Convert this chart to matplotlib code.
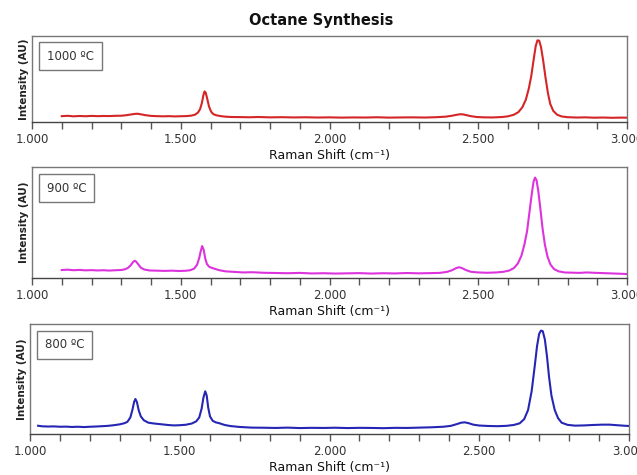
import matplotlib
matplotlib.use("Agg")
import matplotlib.pyplot as plt
from matplotlib.ticker import MultipleLocator, FuncFormatter

# ---------------- data ----------------
labels = ["1000 \u00baC", "900 \u00baC", "800 \u00baC"]
colors = ["#d42626", "#dd33dd", "#2626b4"]

x_1000 = [1100, 1120, 1140, 1160, 1180, 1200, 1220, 1240, 1260, 1280, 1300, 1315, 1330, 1345, 1355, 1365,
          1380, 1400, 1420, 1440, 1460, 1480, 1500, 1520, 1535, 1548, 1558, 1565, 1571, 1576, 1580, 1584,
          1589, 1595, 1602, 1610, 1620, 1635, 1650, 1670, 1700, 1730, 1760, 1800, 1840, 1880, 1920, 1960,
          2000, 2040, 2080, 2120, 2160, 2200, 2240, 2280, 2320, 2360, 2390, 2410, 2425, 2438, 2448, 2460,
          2475, 2495, 2520, 2550, 2580, 2600, 2620, 2635, 2648, 2660, 2670, 2678, 2686, 2693, 2699, 2705,
          2711, 2718, 2726, 2734, 2742, 2752, 2765, 2780, 2800, 2830, 2860, 2890, 2920, 2950, 2980, 3000]
y_1000 = [0.068, 0.072, 0.066, 0.070, 0.067, 0.071, 0.068, 0.070, 0.069, 0.072, 0.073, 0.078, 0.086, 0.094, 0.096, 0.090,
          0.080, 0.071, 0.068, 0.066, 0.068, 0.065, 0.067, 0.069, 0.074, 0.085, 0.110, 0.150, 0.220, 0.310, 0.355, 0.340,
          0.270, 0.180, 0.120, 0.090, 0.078, 0.068, 0.062, 0.058, 0.057, 0.055, 0.058, 0.054, 0.056, 0.053, 0.055, 0.052,
          0.054, 0.051, 0.053, 0.052, 0.055, 0.051, 0.053, 0.054, 0.052, 0.056, 0.062, 0.072, 0.082, 0.090, 0.089, 0.080,
          0.068, 0.058, 0.054, 0.053, 0.058, 0.066, 0.085, 0.115, 0.170, 0.260, 0.390, 0.530, 0.720, 0.880, 0.950, 0.945,
          0.870, 0.720, 0.520, 0.340, 0.210, 0.130, 0.085, 0.065, 0.056, 0.052, 0.054, 0.050, 0.052, 0.049, 0.051, 0.050]

x_900 = [1100, 1120, 1140, 1160, 1180, 1200, 1220, 1240, 1260, 1280, 1300, 1312, 1322, 1332, 1340, 1345,
         1350, 1358, 1366, 1378, 1395, 1420, 1445, 1470, 1495, 1515, 1532, 1545, 1555, 1562, 1567, 1572,
         1577, 1582, 1588, 1596, 1606, 1615, 1630, 1650, 1680, 1710, 1740, 1780, 1820, 1860, 1900, 1940,
         1980, 2020, 2060, 2100, 2140, 2180, 2220, 2260, 2300, 2340, 2370, 2395, 2412, 2425, 2435, 2445,
         2458, 2475, 2500, 2530, 2560, 2585, 2605, 2620, 2633, 2645, 2655, 2664, 2672, 2680, 2686, 2691,
         2696, 2702, 2709, 2716, 2724, 2733, 2743, 2755, 2770, 2790, 2815, 2840, 2865, 2890, 2920, 2950,
         2980, 3000]
y_900 = [0.072, 0.075, 0.070, 0.073, 0.069, 0.071, 0.068, 0.070, 0.067, 0.070, 0.072, 0.078, 0.090, 0.115, 0.145, 0.155,
         0.148, 0.120, 0.092, 0.076, 0.068, 0.066, 0.064, 0.066, 0.063, 0.065, 0.070, 0.085, 0.120, 0.180, 0.240, 0.288,
         0.255, 0.180, 0.125, 0.100, 0.090, 0.082, 0.070, 0.060, 0.055, 0.050, 0.052, 0.047, 0.045, 0.043, 0.046, 0.041,
         0.043, 0.040, 0.042, 0.044, 0.040, 0.043, 0.041, 0.045, 0.042, 0.044, 0.046, 0.055, 0.070, 0.088, 0.097, 0.090,
         0.072, 0.056, 0.050, 0.047, 0.050, 0.056, 0.068, 0.090, 0.130, 0.200, 0.300, 0.420, 0.590, 0.760, 0.870, 0.905,
         0.880, 0.780, 0.620, 0.450, 0.300, 0.190, 0.120, 0.080, 0.060, 0.050, 0.048, 0.046, 0.050, 0.047, 0.044, 0.041,
         0.038, 0.036]

x_800 = [1027, 1040, 1060, 1080, 1100, 1120, 1140, 1160, 1180, 1200, 1220, 1240, 1260, 1280, 1300, 1315,
         1325, 1335, 1342, 1348, 1352, 1357, 1363, 1370, 1380, 1395, 1415, 1440, 1460, 1480, 1500, 1520,
         1540, 1555, 1565, 1573, 1579, 1585, 1590, 1595, 1601, 1610, 1620, 1632, 1650, 1670, 1700, 1740,
         1780, 1820, 1860, 1900, 1940, 1980, 2020, 2060, 2100, 2140, 2180, 2220, 2260, 2300, 2340, 2380,
         2405, 2425, 2440, 2452, 2465, 2480, 2500, 2530, 2560, 2590, 2615, 2635, 2650, 2663, 2675, 2685,
         2693, 2700, 2706, 2712, 2719, 2726, 2733, 2741, 2752, 2763, 2775, 2795, 2820, 2850, 2880, 2910,
         2935, 2960, 2985, 3000]
y_800 = [0.075, 0.070, 0.068, 0.069, 0.066, 0.067, 0.064, 0.066, 0.063, 0.066, 0.068, 0.071, 0.074, 0.080, 0.088, 0.098,
         0.110, 0.150, 0.220, 0.295, 0.318, 0.290, 0.215, 0.160, 0.125, 0.103, 0.095, 0.088, 0.082, 0.078, 0.080, 0.084,
         0.095, 0.115, 0.150, 0.230, 0.330, 0.388, 0.350, 0.240, 0.160, 0.120, 0.106, 0.098, 0.082, 0.072, 0.064, 0.058,
         0.057, 0.055, 0.058, 0.054, 0.056, 0.055, 0.057, 0.054, 0.056, 0.055, 0.053, 0.056, 0.055, 0.058, 0.061, 0.066,
         0.074, 0.090, 0.103, 0.106, 0.098, 0.085, 0.077, 0.073, 0.071, 0.074, 0.082, 0.097, 0.135, 0.218, 0.390, 0.612,
         0.800, 0.910, 0.940, 0.935, 0.860, 0.710, 0.520, 0.350, 0.218, 0.145, 0.103, 0.083, 0.076, 0.078, 0.082, 0.085,
         0.085, 0.080, 0.075, 0.073]

xs = [x_1000, x_900, x_800]
ys = [y_1000, y_900, y_800]
x_limits = (1000, 3000)
major_step = 500
minor_step = 100
title = "Octane Synthesis"
xlabel = "Raman Shift (cm\u207b\u00b9)"
ylabel = "Intensity (AU)"

# ---------------- layout ----------------
W, H = 637, 475
fig = plt.figure(figsize=(W / 100, H / 100), dpi=100)
plt.rcParams['font.family'] = ['DejaVu Sans']

# pixel boxes (left, top, right, bottom)
boxes = [(32, 36, 627, 122), (32, 167, 627, 278), (30, 324, 629, 434)]
label_y = [0.767, 0.81, 0.81]


def fmt(v, pos):
    return "{:,.0f}".format(v).replace(",", ".")


for i, (l, t, r, b) in enumerate(boxes):
    ax = fig.add_axes([l / W, 1 - b / H, (r - l) / W, (b - t) / H])
    ax.plot(xs[i], ys[i], color=colors[i], lw=1.5)
    ax.set_xlim(*x_limits)
    ax.set_ylim(0, 1)
    ax.set_yticks([])
    ax.xaxis.set_major_locator(MultipleLocator(major_step))
    ax.xaxis.set_minor_locator(MultipleLocator(minor_step))
    ax.xaxis.set_major_formatter(FuncFormatter(fmt))
    ax.tick_params(axis='x', which='both', direction='out', length=5, width=1,
                   color='#555555', labelsize=8.5, labelcolor='#333333', pad=3)
    for s in ['top', 'right', 'left']:
        ax.spines[s].set_color('#777777')
        ax.spines[s].set_linewidth(1)
    ax.spines['bottom'].set_color('#444444')
    ax.spines['bottom'].set_linewidth(1)
    ax.set_xlabel(xlabel, fontsize=9, color='#111111', labelpad=2)
    ax.set_ylabel(ylabel, fontsize=7.5, fontweight='bold', color='#222222', labelpad=2)
    ax.text(0.025, label_y[i], labels[i], transform=ax.transAxes,
            fontsize=8.5, color='#333333', va='center', ha='left',
            bbox=dict(boxstyle='square,pad=0.65', fc='white', ec='#777777', lw=1))

fig.text(0.505, 1 - 20 / H, title, ha='center', va='center', fontsize=10.5,
         fontweight='bold', color='#111111')

fig.savefig("out.png", dpi=100)
